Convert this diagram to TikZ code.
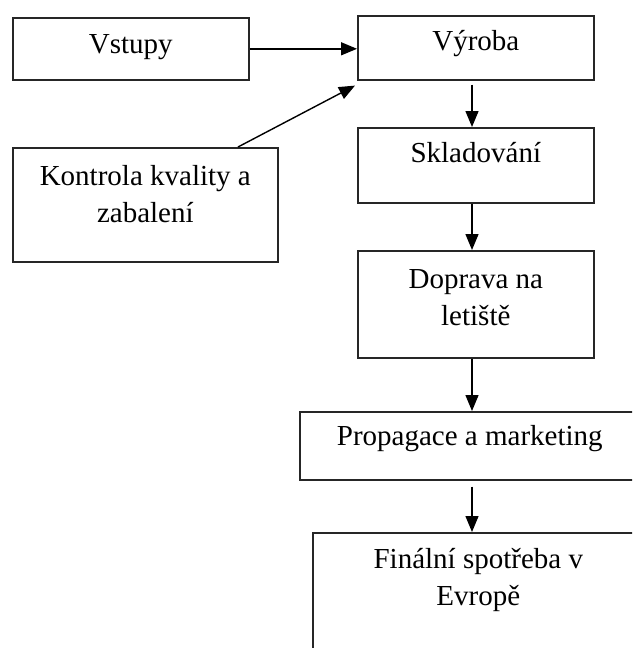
\documentclass[tikz,border=0pt]{standalone}
\usepackage{fontspec}
\setmainfont{Liberation Serif}
\usetikzlibrary{arrows.meta,calc}
\begin{document}
\begin{tikzpicture}[x=1pt,y=-1pt,
  box/.style={draw=black!85, line width=1.6pt, rectangle, inner sep=0pt, anchor=north west},
  lbl/.style={font=\fontsize{29}{37}\selectfont, align=center, anchor=base, inner sep=0pt},
  arr/.style={-{Triangle[length=16pt,width=13pt]}, line width=1.4pt, draw=black}]
\useasboundingbox (0,0) rectangle (632,648);
\clip (0,0) rectangle (632,648);
\node[box, minimum width=236, minimum height=62] (vstupy) at (12,17) {};
\node[box, minimum width=236, minimum height=64] (vyroba) at (357,15) {};
\node[box, minimum width=236, minimum height=75] (sklad) at (357,127) {};
\node[box, minimum width=265, minimum height=114] (kontrola) at (12,147) {};
\node[box, minimum width=236, minimum height=107] (doprava) at (357,250) {};
\node[box, minimum width=340, minimum height=68] (propag) at (299,411) {};
\node[box, minimum width=331, minimum height=150] (final) at (312,532) {};
\node[lbl] (t1) at ([yshift=-36]vstupy.north) {Vstupy};
\node[lbl] (t2) at ([yshift=-35]vyroba.north) {Výroba};
\node[lbl] (t3) at ([yshift=-35]sklad.north) {Skladování};
\node[lbl] (t4) at ([yshift=-75]kontrola.north) {Kontrola kvality a\\zabalení};
\node[lbl] (t5) at ([yshift=-75]doprava.north) {Doprava na\\letiště};
\node[lbl] (t6) at ([yshift=-34]propag.north) {Propagace a marketing};
\node[lbl] (t7) at ([yshift=-73]final.north) {Finální spotřeba v\\Evropě};
\coordinate (col) at (472,0);
\draw[arr] (vstupy.east) -- (vstupy.east -| vyroba.west);
\draw[arr] ([xshift=226pt]kontrola.north west) -- ($(vyroba.south west)+(-2,5)$);
\draw[arr] ($(vyroba.south -| col)+(0,4)$) -- (sklad.north -| col);
\draw[arr] (sklad.south -| col) -- (doprava.north -| col);
\draw[arr] (doprava.south -| col) -- (propag.north -| col);
\draw[arr] ($(propag.south -| col)+(0,6)$) -- (final.north -| col);
\end{tikzpicture}
\end{document}
